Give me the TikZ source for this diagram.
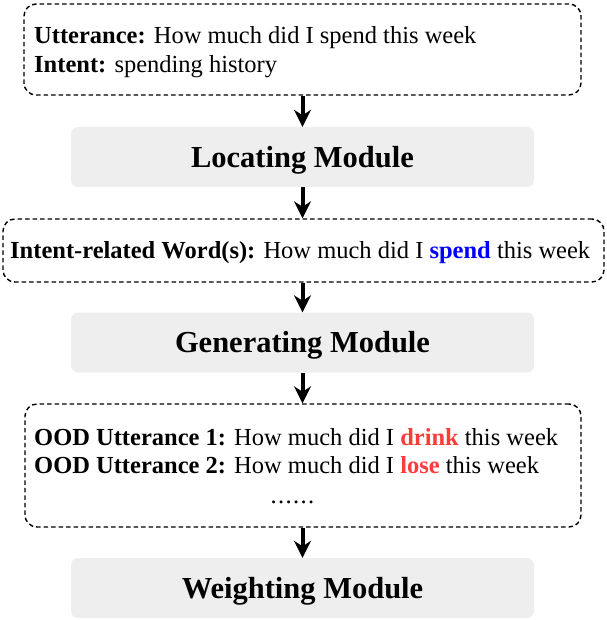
\documentclass[tikz,border=0pt]{standalone}
\usepackage{fontspec}
\setmainfont{Liberation Serif}
\usetikzlibrary{arrows.meta}
\definecolor{modgray}{HTML}{EEEEEE}
\definecolor{spendblue}{HTML}{0000FF}
\definecolor{oodred}{HTML}{FF3B3B}
\begin{document}
\begin{tikzpicture}[x=1pt,y=-1pt,
  dbox/.style={draw, dash pattern=on 4.5pt off 3pt, line width=1.4pt, rounded corners=12pt, inner sep=0pt},
  mod/.style={fill=modgray, rounded corners=7pt, minimum width=463pt, minimum height=60pt, inner sep=0pt,
    font=\fontsize{30.5pt}{36pt}\selectfont\bfseries, text height=20.7pt, text depth=0pt},
  arr/.style={-{Stealth[length=17pt,width=17pt]}, line width=4pt},
  txt/.style={anchor=base west, inner sep=0pt, font=\fontsize{24.5pt}{29pt}\selectfont}]
\useasboundingbox (0,0) rectangle (606,620);

% input box
\node[dbox, minimum width=557pt, minimum height=91pt] (in) at (302.5,49.5) {};
\node[txt] (u1) at (34,44) {\textbf{Utterance:} How much did I spend this week};
\node[txt] (u2) at (34,73) {\textbf{Intent:} spending history};

% locating
\node[mod] (loc) at (302.5,157) {Locating Module};

% intent-related words box
\node[dbox, minimum width=601pt, minimum height=63pt] (iw) at (303.5,250.5) {};
\node[txt] (w1) at (10,258) {\textbf{Intent-related Word(s):} How much did I \textcolor{spendblue}{\textbf{spend}} this week};

% generating
\node[mod] (gen) at (302.5,342.5) {Generating Module};

% OOD box
\node[dbox, minimum width=556pt, minimum height=123pt] (ood) at (303,465.5) {};
\node[txt] (o1) at (34,445) {\textbf{OOD Utterance 1:} How much did I \textcolor{oodred}{\textbf{drink}} this week};
\node[txt] (o2) at (34,473) {\textbf{OOD Utterance 2:} How much did I \textcolor{oodred}{\textbf{lose}} this week};
\node[txt, anchor=base] (dots) at (292.5,503) {.\kern1.4pt.\kern1.4pt.\kern1.4pt.\kern1.4pt.\kern1.4pt.};

% weighting
\node[mod] (wei) at (302.5,588) {Weighting Module};

% arrows
\draw[arr] (in.south -| loc.north) -- (loc.north);
\draw[arr] (loc.south) -- (loc.south |- iw.north);
\draw[arr] (loc.south |- iw.south) -- (gen.north);
\draw[arr] (gen.south) -- (gen.south |- ood.north);
\draw[arr] (gen.south |- ood.south) -- (wei.north);
\end{tikzpicture}
\end{document}
